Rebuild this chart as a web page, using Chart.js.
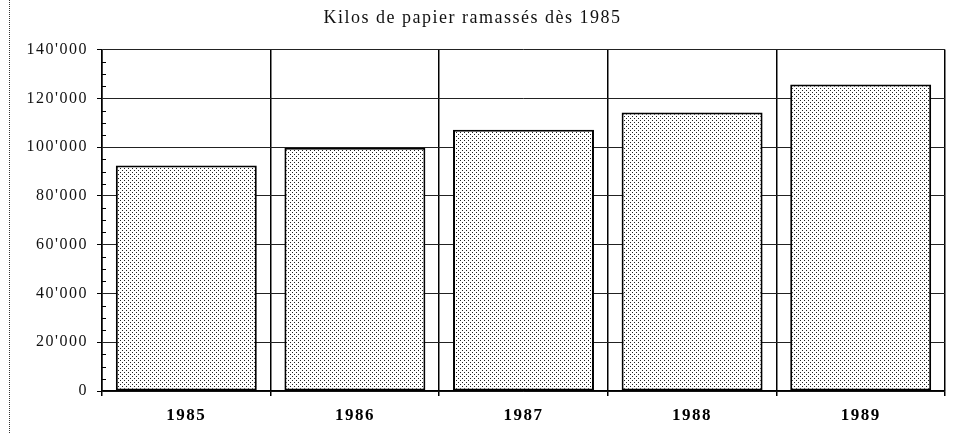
<!DOCTYPE html>
<html>
<head>
<meta charset="utf-8">
<script src="https://cdn.jsdelivr.net/npm/chart.js@4"></script>
<style>
  html, body { margin: 0; padding: 0; background: #fff; }
  #wrap { position: relative; width: 953px; height: 433px; }
  #frame { position: absolute; left: 9px; top: 0; height: 433px; border-left: 1px dotted #333; }
</style>
</head>
<body>
<div id="wrap">
  <div id="frame"></div>
  <canvas id="chart" width="953" height="433"></canvas>
</div>
<script>
// kilos of paper collected per year
const years = ['1985', '1986', '1987', '1988', '1989'];
const kilos = [92500, 99800, 107100, 114200, 125700];
const yMax = 140000;
const majorStep = 20000;
const minorStep = 5000;

function fmt(v) {
  // swiss style thousands: 140'000
  return String(v).replace(/\B(?=(\d{3})+(?!\d))/g, "'");
}

// dotted fill like the old printout
function dotPattern() {
  const c = document.createElement('canvas');
  c.width = 4; c.height = 4;
  const g = c.getContext('2d');
  g.fillStyle = '#fff';
  g.fillRect(0, 0, 4, 4);
  g.fillStyle = '#222';
  g.fillRect(0, 0, 1, 1);
  g.fillRect(2, 2, 1, 1);
  return g.createPattern(c, 'repeat');
}

const isMajor = v => v % majorStep === 0;

// the scanned type is a bit wide, spread the letters
const spacing = {
  id: 'spacing',
  beforeDraw(chart) { chart.ctx.letterSpacing = '1.5px'; }
};

// small inside ticks between the labelled ones
const minorTicks = {
  id: 'minorTicks',
  afterDraw(chart) {
    const y = chart.scales.y;
    const ctx = chart.ctx;
    ctx.save();
    ctx.strokeStyle = '#000';
    ctx.lineWidth = 1;
    y.ticks.forEach(t => {
      if (isMajor(t.value)) return;
      const py = Math.round(y.getPixelForValue(t.value)) + 0.5;
      ctx.beginPath();
      ctx.moveTo(y.right, py);
      ctx.lineTo(y.right + 4, py);
      ctx.stroke();
    });
    ctx.restore();
  }
};

const ctx = document.getElementById('chart').getContext('2d');
new Chart(ctx, {
  type: 'bar',
  data: {
    labels: years,
    datasets: [{
      data: kilos,
      backgroundColor: dotPattern(),
      borderColor: '#000',
      borderWidth: 2,
      borderSkipped: false,
      categoryPercentage: 1,
      barPercentage: 0.836
    }]
  },
  options: {
    responsive: false,
    devicePixelRatio: 1,
    animation: false,
    layout: { padding: { left: 0, right: 8, top: 0, bottom: 0 } },
    plugins: {
      legend: { display: false },
      tooltip: { enabled: false },
      title: {
        display: true,
        text: 'Kilos de papier ramassés dès 1985',
        color: '#111',
        font: { family: 'Liberation Serif', size: 18, weight: 'normal' },
        padding: { top: 7, bottom: 21 }
      }
    },
    scales: {
      x: {
        afterFit: s => { s.height = 42; },
        grid: { color: '#000', lineWidth: 1.5, tickLength: 5, tickColor: '#000' },
        border: { display: true, color: '#000', width: 1.5 },
        ticks: {
          color: '#000',
          padding: 9,
          font: { family: 'Liberation Serif', size: 17, weight: 'bold' }
        }
      },
      y: {
        min: 0,
        max: yMax,
        afterFit: s => { s.width = 102; },
        grid: {
          color: c => (c.tick && isMajor(c.tick.value)) ? '#222' : 'rgba(0,0,0,0)',
          tickColor: c => (c.tick && isMajor(c.tick.value)) ? '#000' : 'rgba(0,0,0,0)',
          lineWidth: 1,
          tickLength: 5
        },
        border: { display: true, color: '#000', width: 1.5 },
        ticks: {
          stepSize: minorStep,
          autoSkip: false,
          color: '#111',
          padding: 9,
          font: { family: 'Liberation Serif', size: 16 },
          callback: v => isMajor(v) ? fmt(v) : ''
        }
      }
    }
  },
  plugins: [spacing, minorTicks]
});
</script>
</body>
</html>
